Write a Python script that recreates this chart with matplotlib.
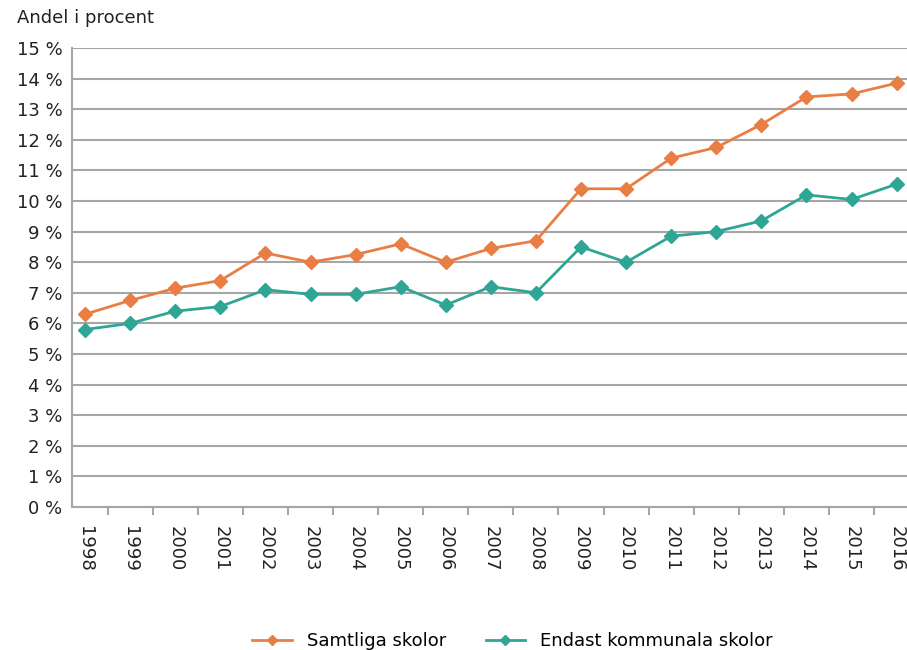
import matplotlib.pyplot as plt
from matplotlib.ticker import FixedLocator

years = [str(y) for y in range(1998, 2017)]
samtliga = [6.3, 6.75, 7.15, 7.4, 8.3, 8.0, 8.25, 8.6, 8.0, 8.45, 8.7,
            10.4, 10.4, 11.4, 11.75, 12.5, 13.4, 13.5, 13.85]
kommunala = [5.8, 6.0, 6.4, 6.55, 7.1, 6.95, 6.95, 7.2, 6.6, 7.2, 7.0,
             8.5, 8.0, 8.85, 9.0, 9.35, 10.2, 10.05, 10.55]

orange = '#E97E45'
teal = '#2FA596'
grey = '#A6A6A6'

plt.rcParams['font.family'] = ['DejaVu Sans']

fig = plt.figure(figsize=(9.07, 6.5), dpi=100)
ax = fig.add_axes([72 / 907, 143 / 650, 1 - 72 / 907, (507 - 48) / 650])

x = list(range(len(years)))
ax.plot(x, samtliga, color=orange, lw=2.0, marker='D', ms=7, label='Samtliga skolor')
ax.plot(x, kommunala, color=teal, lw=2.0, marker='D', ms=7, label='Endast kommunala skolor')

ax.set_ylim(0, 15)
ax.set_xlim(-0.29, 18.23)
ax.set_yticks(range(0, 16))
ax.set_yticklabels([f'{i} %' for i in range(0, 16)], fontsize=13, color='#222222')
ax.yaxis.grid(True, color=grey, lw=1.5)
ax.set_axisbelow(True)
ax.tick_params(axis='y', length=0, pad=7)

ax.set_xticks(x)
ax.set_xticklabels(years, rotation=270, fontsize=13, color='#222222')
ax.tick_params(axis='x', which='major', length=0, pad=14)
ax.xaxis.set_minor_locator(FixedLocator([i + 0.5 for i in range(len(years) - 1)]))
ax.tick_params(axis='x', which='minor', length=6, width=1.5, color=grey)

for s in ['top', 'right']:
    ax.spines[s].set_visible(False)
for s in ['left', 'bottom']:
    ax.spines[s].set_color(grey)
    ax.spines[s].set_linewidth(1.5)

fig.text(17 / 907, 1 - 18 / 650, 'Andel i procent', fontsize=13, color='#222222', va='center')

fig.legend(loc='center', bbox_to_anchor=(0.565, 1 - 641 / 650), ncol=2, frameon=False,
           fontsize=13, handlelength=2.2, columnspacing=2.2, markerscale=0.8)

fig.savefig('out.png', dpi=100)
